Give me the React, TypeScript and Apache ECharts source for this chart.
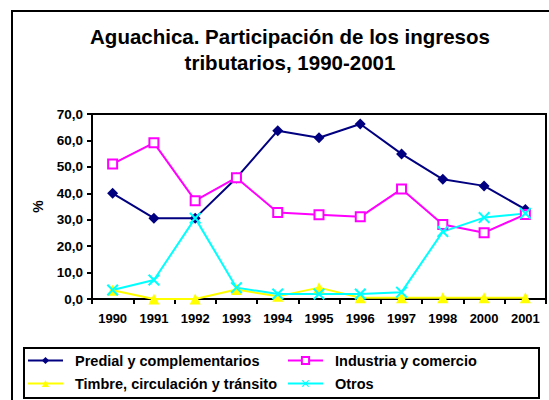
import React, { useEffect, useRef } from "react";
import * as echarts from "echarts";

const years = ["1990", "1991", "1992", "1993", "1994", "1995", "1996", "1997", "1998", "2000", "2001"];
const predial = [40.0, 30.6, 30.6, 45.8, 63.7, 61.0, 66.2, 54.9, 45.3, 42.8, 33.9];
const industria = [51.1, 59.1, 37.2, 45.9, 32.7, 31.9, 31.1, 41.6, 28.2, 25.1, 32.0];
const timbre = [3.3, 0.0, 0.0, 3.6, 1.0, 4.3, 0.5, 0.5, 0.5, 0.5, 0.5];
const otros = [3.4, 7.2, 30.6, 4.3, 1.9, 1.9, 1.9, 2.6, 25.5, 30.8, 32.4];
const yTicks = [0, 10, 20, 30, 40, 50, 60, 70];

const FONT = "'Liberation Sans', Arial, sans-serif";
const X_SYMBOL = "path://M0,1.2L1.2,0L5,3.8L8.8,0L10,1.2L6.2,5L10,8.8L8.8,10L5,6.2L1.2,10L0,8.8L3.8,5Z";

export default function App() {
  const ref = useRef<HTMLDivElement>(null);
  useEffect(() => {
    document.body.style.margin = "0";
    const chart = echarts.init(ref.current!, null, { renderer: "svg" });
    const mk = (name: string, data: number[], color: string, symbol: string, size: number, extra: any = {}) => ({
      name,
      type: "line",
      data,
      symbol,
      symbolSize: size,
      lineStyle: { color, width: 2 },
      itemStyle: { color, ...extra },
      z: 3,
    });
    const legendText = { fontFamily: FONT, fontWeight: "bold", fontSize: 14.5, color: "#000", padding: [0, 0, 0, 7] };
    chart.setOption({
      animation: false,
      backgroundColor: "#ffffff",
      title: {
        text: "Aguachica. Participación de los ingresos\ntributarios, 1990-2001",
        left: 285,
        textAlign: "center",
        top: 18,
        textStyle: { fontFamily: FONT, fontWeight: "bold", fontSize: 20.5, color: "#000", lineHeight: 26 },
      },
      graphic: [
        { type: "rect", shape: { x: 12, y: 11, width: 560, height: 420 }, style: { fill: "none", stroke: "#000", lineWidth: 2 }, z: 0 },
        { type: "rect", shape: { x: 24, y: 348, width: 515, height: 50 }, style: { fill: "#fff", stroke: "#000", lineWidth: 2 }, z: 1 },
      ],
      grid: { left: 92, top: 114, right: 3, bottom: 101, show: true, borderColor: "#000", borderWidth: 2, containLabel: false },
      xAxis: {
        type: "category",
        data: years,
        boundaryGap: true,
        axisLine: { lineStyle: { color: "#000", width: 2 } },
        axisTick: { show: true, length: 5, lineStyle: { color: "#000", width: 2 }, alignWithLabel: false },
        axisLabel: { fontFamily: FONT, fontWeight: "bold", fontSize: 13, color: "#000", margin: 13, interval: 0 },
      },
      yAxis: {
        type: "value",
        min: 0,
        max: 70,
        interval: 10,
        name: "%",
        nameLocation: "middle",
        nameGap: 47,
        nameRotate: 90,
        nameTextStyle: { fontFamily: FONT, fontWeight: "bold", fontSize: 14, color: "#000" },
        splitLine: { show: false },
        axisLine: { show: true, lineStyle: { color: "#000", width: 2 } },
        axisTick: { show: true, length: 5, lineStyle: { color: "#000", width: 2 } },
        axisLabel: {
          fontFamily: FONT,
          fontWeight: "bold",
          fontSize: 13.5,
          color: "#000",
          margin: 9,
          formatter: (v: number) => (yTicks.includes(v) ? v.toFixed(1).replace(".", ",") : ""),
        },
      },
      legend: [
        {
          left: 22,
          top: 348,
          orient: "vertical",
          itemWidth: 35,
          itemHeight: 9,
          itemGap: 8,
          data: ["Predial y complementarios", "Timbre, circulación y tránsito"],
          textStyle: legendText,
        },
        {
          left: 282,
          top: 348,
          orient: "vertical",
          itemWidth: 35,
          itemHeight: 9,
          itemGap: 8,
          data: ["Industria y comercio", "Otros"],
          textStyle: legendText,
        },
      ],
      series: [
        mk("Predial y complementarios", predial, "#000080", "diamond", 11),
        mk("Industria y comercio", industria, "#FF00FF", "rect", 9, { borderColor: "#FF00FF", borderWidth: 2, color: "#fff" }),
        mk("Timbre, circulación y tránsito", timbre, "#FFFF00", "triangle", 11),
        mk("Otros", otros, "#00FFFF", X_SYMBOL, 12),
      ],
    });
    return () => chart.dispose();
  }, []);
  return <div ref={ref} style={{ width: 549, height: 400 }} />;
}
